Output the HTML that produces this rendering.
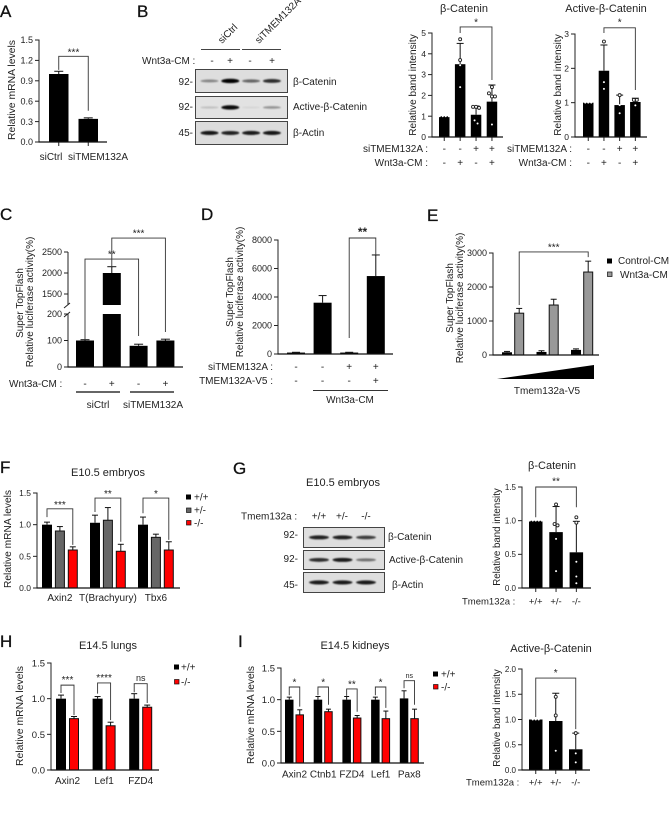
<!DOCTYPE html>
<html lang="en">
<head>
<meta charset="utf-8">
<title>TMEM132A Wnt signaling figure</title>
<style>
html,body{margin:0;padding:0;background:#fff;}
svg{display:block;}
text{font-family:"Liberation Sans",Arial,sans-serif;fill:#222;}
.p{font-size:17px;fill:#111;stroke:#111;stroke-width:.3px;}
.t{font-size:11px;text-anchor:middle;}
.l{font-size:10px;}
.m{text-anchor:middle;}
.e{text-anchor:end;}
</style>
</head>
<body>
<svg id="fig" xmlns="http://www.w3.org/2000/svg" width="669" height="833" viewBox="0 0 669 833">
<defs><filter id="soft" x="-20%" y="-100%" width="140%" height="300%"><feGaussianBlur stdDeviation="0.8"/></filter></defs>
<rect width="669" height="833" fill="#fff"/>

<text class="p" x="0" y="17">A</text>
<text class="p" x="137" y="17">B</text>
<text class="p" x="0" y="220">C</text>
<text class="p" x="201" y="220">D</text>
<text class="p" x="427" y="221">E</text>
<text class="p" x="0" y="473">F</text>
<text class="p" x="233" y="474">G</text>
<text class="p" x="0" y="647">H</text>
<text class="p" x="238" y="647">I</text>

<text class="t" x="464" y="12">β-Catenin</text>
<text class="t" x="606" y="12">Active-β-Catenin</text>
<text class="t" x="108" y="476">E10.5 embryos</text>
<text class="t" x="343" y="486">E10.5 embryos</text>
<text class="t" x="552" y="469">β-Catenin</text>
<text class="t" x="108" y="649">E14.5 lungs</text>
<text class="t" x="355" y="649">E14.5 kidneys</text>
<text class="t" x="551" y="652">Active-β-Catenin</text>

<!-- panel B blot labels -->
<text class="l" transform="translate(222,44) rotate(-45)">siCtrl</text>
<text class="l" transform="translate(259,44) rotate(-45)">siTMEM132A</text>
<line x1="201" y1="49.5" x2="240" y2="49.5" stroke="#444" stroke-width="1"/>
<line x1="242" y1="49.5" x2="281" y2="49.5" stroke="#444" stroke-width="1"/>
<text class="l" x="142" y="64">Wnt3a-CM :</text>
<text class="l m" x="212" y="64">-</text>
<text class="l m" x="230" y="64">+</text>
<text class="l m" x="250" y="64">-</text>
<text class="l m" x="272" y="64">+</text>
<text class="l e" x="193" y="85">92-</text>
<text class="l e" x="193" y="110">92-</text>
<text class="l e" x="193" y="136">45-</text>
<text class="l" x="293" y="85">β-Catenin</text>
<text class="l" x="293" y="110">Active-β-Catenin</text>
<text class="l" x="293" y="136">β-Actin</text>

<!-- panel B condition rows -->
<text class="l e" x="428" y="152">siTMEM132A :</text>
<text class="l e" x="428" y="166">Wnt3a-CM :</text>
<text class="l e" x="572" y="152">siTMEM132A :</text>
<text class="l e" x="572" y="166">Wnt3a-CM :</text>

<!-- panel C -->
<text class="l" x="9" y="387">Wnt3a-CM :</text>
<line x1="76" y1="392" x2="120" y2="392" stroke="#333" stroke-width="1.5"/>
<line x1="130" y1="392" x2="174" y2="392" stroke="#333" stroke-width="1.5"/>
<text class="l m" x="98" y="408">siCtrl</text>
<text class="l m" x="153" y="408">siTMEM132A</text>
<text class="l m" transform="translate(23,303) rotate(-90)">Super TopFlash</text>
<text class="l m" transform="translate(33,302) rotate(-90)">Relative luciferase activity(%)</text>

<!-- panel D -->
<text class="l e" x="273" y="370">siTMEM132A :</text>
<text class="l e" x="273" y="384">TMEM132A-V5 :</text>
<line x1="313" y1="390.5" x2="388" y2="390.5" stroke="#333" stroke-width="1"/>
<text class="l m" x="350" y="403">Wnt3a-CM</text>
<text class="l m" transform="translate(233,292) rotate(-90)">Super TopFlash</text>
<text class="l m" transform="translate(243,292) rotate(-90)">Relative luciferase activity(%)</text>

<!-- panel E -->
<text class="l m" transform="translate(453,298) rotate(-90)">Super TopFlash</text>
<text class="l m" transform="translate(463,298) rotate(-90)">Relative luciferase activity(%)</text>
<polygon points="497,379 594,365 594,379" fill="#000"/>
<text class="l m" x="547" y="394">Tmem132a-V5</text>
<rect x="607" y="258.5" width="5" height="5" fill="#000"/>
<text class="l" x="618" y="264">Control-CM</text>
<rect x="607.5" y="272" width="4.5" height="4.5" fill="#999" stroke="#222" stroke-width=".8"/>
<text class="l" x="620" y="278">Wnt3a-CM</text>

<!-- panel F legend -->
<rect x="186" y="494.5" width="5" height="5" fill="#000"/>
<text class="l" x="194" y="500.5">+/+</text>
<rect x="186.5" y="508" width="4.5" height="4.5" fill="#666" stroke="#111" stroke-width=".7"/>
<text class="l" x="194" y="513.5">+/-</text>
<rect x="186.5" y="520.5" width="4.5" height="4.5" fill="#f00" stroke="#111" stroke-width=".7"/>
<text class="l" x="194" y="526.5">-/-</text>

<!-- panel G blot text -->
<text class="l" x="241" y="519.5">Tmem132a :</text>
<text class="l m" x="319" y="519.5">+/+</text>
<text class="l m" x="342" y="519.5">+/-</text>
<text class="l m" x="366" y="519.5">-/-</text>
<text class="l e" x="298" y="538">92-</text>
<text class="l e" x="298" y="562">92-</text>
<text class="l e" x="298" y="588">45-</text>
<text class="l" x="388" y="540">β-Catenin</text>
<text class="l" x="389" y="563">Active-β-Catenin</text>
<text class="l" x="392" y="588">β-Actin</text>
<text class="l" x="462" y="604.5" style="font-size:9.5px">Tmem132a :</text>

<!-- panel H legend -->
<rect x="174" y="664.5" width="5" height="5" fill="#000"/>
<text class="l" x="181" y="670.5">+/+</text>
<rect x="174.5" y="679.5" width="4.5" height="4.5" fill="#f00" stroke="#111" stroke-width=".7"/>
<text class="l" x="181" y="685.5">-/-</text>

<!-- panel I legend -->
<rect x="433" y="671.5" width="5" height="5" fill="#000"/>
<text class="l" x="441" y="677.5">+/+</text>
<rect x="433.5" y="684.5" width="4.5" height="4.5" fill="#f00" stroke="#111" stroke-width=".7"/>
<text class="l" x="441" y="690.5">-/-</text>
<text class="l" x="466" y="785.5" style="font-size:9.5px">Tmem132a :</text>
</svg>

<script>
/* ---------- Panel A ---------- */
const aCategories = ['siCtrl', 'siTMEM132A'];
const aValues = [1.0, 0.34];
const aErrors = [0.04, 0.015];
const aTicks = [0, 0.3, 0.6, 0.9, 1.2, 1.5];
const aTickLabels = ['0.0', '0.3', '0.6', '0.9', '1.2', '1.5'];
const aBrackets = [{from: 0, to: 1, top: 1.26, left: 1.06, right: 0.46, label: '***'}];

/* ---------- Panel B, beta-catenin quantification ---------- */
const bBetaValues = [1.0, 3.5, 1.07, 1.7];
const bBetaErrors = [0, 1.0, 0.42, 0.8];
const bBetaPoints = [[1, 1, 1, 1], [4.7, 3.7, 3.45, 2.4], [1.45, 1.45, 1.4, 0.8, 0.65], [2.4, 2.1, 1.95, 1.95, 0.6]];
const bBetaTicks = [0, 1, 2, 3, 4, 5];
const bBetaTickLabels = ['0', '1', '2', '3', '4', '5'];
const bBetaBrackets = [{from: 1, to: 3, top: 5.29, left: 5.0, right: 2.74, label: '*'}];

/* ---------- Panel B, active beta-catenin quantification ---------- */
const bActiveValues = [1.0, 1.93, 0.93, 1.02];
const bActiveErrors = [0, 0.75, 0.29, 0.11];
const bActivePoints = [[1, 1, 1], [2.78, 1.6, 1.4], [1.22, 0.93, 0.69], [1.08, 1.08, 0.92]];
const bActiveTicks = [0, 1, 2, 3];
const bActiveTickLabels = ['0', '1', '2', '3'];
const bActiveBrackets = [{from: 1, to: 3, top: 3.18, left: 3.03, right: 1.37, label: '*'}];
const bSiRow = ['-', '-', '+', '+'];
const bWntRow = ['-', '+', '-', '+'];

/* ---------- Panel C ---------- */
const cValues = [100, 2000, 80, 100];
const cErrors = [3, 150, 6, 5];
const cTicks = [0, 100, 200, 1500, 2000, 2500];
const cTickLabels = ['0', '100', '200', '1500', '2000', '2500'];
const cBrackets = [
  {from: 0, to: 2, top: 2333, left: 102, right: 117, label: '**'},
  {from: 1, to: 3, top: 2833, left: 2119, right: 132, label: '***'}
];
const cWntRow = ['-', '+', '-', '+'];

/* ---------- Panel D ---------- */
const dValues = [100, 3600, 100, 5470];
const dErrors = [20, 500, 20, 1480];
const dTicks = [0, 2000, 4000, 6000, 8000];
const dTickLabels = ['0', '2000', '4000', '6000', '8000'];
const dBrackets = [{from: 2, to: 3, top: 8140, left: 1123, right: 6950, label: '**'}];
const dSiRow = ['-', '-', '+', '+'];
const dV5Row = ['-', '-', '-', '+'];

/* ---------- Panel E ---------- */
const eValues = [80, 1230, 90, 1470, 150, 2440];
const eErrors = [25, 140, 35, 170, 30, 320];
const eTicks = [0, 1000, 2000, 3000];
const eTickLabels = ['0', '1000', '2000', '3000'];
const eBrackets = [{from: 1, to: 5, top: 3030, left: 1470, right: 2880, label: '***'}];

/* ---------- Panel F ---------- */
const fCategories = ['Axin2', 'T(Brachyury)', 'Tbx6'];
const fValues = [1.0, 0.9, 0.6, 1.03, 1.07, 0.58, 1.0, 0.8, 0.6];
const fErrors = [0.04, 0.07, 0.05, 0.12, 0.2, 0.11, 0.12, 0.05, 0.13];
const fTicks = [0, 0.5, 1, 1.5];
const fTickLabels = ['0.0', '0.5', '1.0', '1.5'];
const fBrackets = [
  {from: 0, to: 2, top: 1.25, left: 1.12, right: 0.68, label: '***'},
  {from: 3, to: 5, top: 1.42, left: 1.2, right: 0.73, label: '**'},
  {from: 6, to: 8, top: 1.42, left: 1.18, right: 0.76, label: '*'}
];

/* ---------- Panel G quantification ---------- */
const gValues = [1.0, 0.83, 0.53];
const gErrors = [0, 0.38, 0.46];
const gPoints = [[1, 1, 1, 1, 1], [1.24, 0.95, 0.93, 0.73, 0.25], [1.05, 0.97, 0.39, 0.17, 0.07]];
const gTicks = [0, 0.5, 1, 1.5];
const gTickLabels = ['0.0', '0.5', '1.0', '1.5'];
const gBrackets = [{from: 0, to: 2, top: 1.5, left: 1.05, right: 1.2, label: '**'}];
const genotypeRow = ['+/+', '+/-', '-/-'];

/* ---------- Panel H ---------- */
const hCategories = ['Axin2', 'Lef1', 'FZD4'];
const hValues = [1.0, 0.72, 1.0, 0.62, 1.0, 0.88];
const hErrors = [0.05, 0.03, 0.03, 0.05, 0.07, 0.03];
const hTicks = [0, 0.5, 1, 1.5];
const hTickLabels = ['0.0', '0.5', '1.0', '1.5'];
const hBrackets = [
  {from: 0, to: 1, top: 1.19, left: 1.08, right: 0.77, label: '***'},
  {from: 2, to: 3, top: 1.22, left: 1.07, right: 0.70, label: '****'},
  {from: 4, to: 5, top: 1.21, left: 1.09, right: 0.94, label: 'ns'}
];

/* ---------- Panel I ---------- */
const iCategories = ['Axin2', 'Ctnb1', 'FZD4', 'Lef1', 'Pax8'];
const iValues = [1.0, 0.76, 1.0, 0.81, 1.0, 0.71, 1.0, 0.7, 1.02, 0.7];
const iErrors = [0.04, 0.08, 0.05, 0.04, 0.05, 0.04, 0.04, 0.12, 0.12, 0.15];
const iTicks = [0, 0.5, 1, 1.5];
const iTickLabels = ['0.0', '0.5', '1.0', '1.5'];
const iBrackets = [
  {from: 0, to: 1, top: 1.2, left: 1.07, right: 0.89, label: '*'},
  {from: 2, to: 3, top: 1.2, left: 1.07, right: 0.92, label: '*'},
  {from: 4, to: 5, top: 1.17, left: 1.06, right: 0.81, label: '**'},
  {from: 6, to: 7, top: 1.2, left: 1.07, right: 0.87, label: '*'},
  {from: 8, to: 9, top: 1.3, left: 1.18, right: 0.92, label: 'ns'}
];

/* ---------- Panel I quantification ---------- */
const jValues = [1.0, 0.97, 0.41];
const jErrors = [0, 0.55, 0.32];
const jPoints = [[1, 1, 1], [1.45, 1.08, 0.38], [0.73, 0.33, 0.15]];
const jTicks = [0, 0.5, 1, 1.5, 2];
const jTickLabels = ['0.0', '0.5', '1.0', '1.5', '2.0'];
const jBrackets = [{from: 0, to: 2, top: 1.82, left: 1.05, right: 0.81, label: '*'}];

/* ---------- Western blot band intensities ---------- */
const blotBBeta = [0.4, 1, 0.55, 0.8];
const blotBActive = [0.15, 0.95, 0.06, 0.35];
const blotBActin = [0.9, 0.85, 0.88, 0.9];
const blotGBeta = [0.85, 0.85, 0.72];
const blotGActive = [0.8, 0.88, 0.5];
const blotGActin = [0.88, 0.88, 0.88];

const svg = document.getElementById('fig');
const SVGNS = 'http://www.w3.org/2000/svg';

function mk(tag, attrs, parent) {
  const node = document.createElementNS(SVGNS, tag);
  for (const k in attrs) node.setAttribute(k, attrs[k]);
  parent.appendChild(node);
  return node;
}
function linearY(domMax, pxTop, pxBottom) {
  return v => pxBottom - (v / domMax) * (pxBottom - pxTop);
}
function brokenY(v) {
  return v <= 200 ? 367 - v * 0.265 : 294 - (v - 1500) * 0.042;
}
function bandX(c, i) {
  if (!c.group) return c.first + i * c.step;
  return c.first + Math.floor(i / c.group) * c.groupStep + (i % c.group) * c.step;
}
function txt(parent, x, y, str, size, anchor, transform) {
  const t = mk('text', {x: x, y: y, 'font-size': size, 'text-anchor': anchor || 'start'}, parent);
  if (transform) { t.setAttribute('transform', transform); t.removeAttribute('x'); t.removeAttribute('y'); }
  t.textContent = str;
  return t;
}

function drawChart(c) {
  const g = mk('g', {}, svg);
  
  
  const y = c.y;
  const base = y(0);
  const top = y(c.ticks[c.ticks.length - 1]);

  /* y axis */
  if (c.broken) {
    const up = mk('line', {x1: c.axisX, x2: c.axisX, y1: top, y2: y(c.broken[1]), stroke: '#222', 'stroke-width': 1}, g);
    
    
    const lo = mk('line', {x1: c.axisX, x2: c.axisX, y1: y(c.broken[0]), y2: base, stroke: '#222', 'stroke-width': 1}, g);
    
    
    const m1 = mk('line', {x1: c.axisX - 4, x2: c.axisX + 2, y1: y(c.broken[1]) + 3, y2: y(c.broken[1]) - 2, stroke: '#222', 'stroke-width': 1}, g);
    
    
    const m2 = mk('line', {x1: c.axisX - 4, x2: c.axisX + 2, y1: y(c.broken[0]) + 3, y2: y(c.broken[0]) - 2, stroke: '#222', 'stroke-width': 1}, g);
    
    
  } else {
    const ax = mk('line', {x1: c.axisX, x2: c.axisX, y1: top - .5, y2: base, stroke: '#222', 'stroke-width': 1}, g);
    
    
  }

  /* ticks and tick labels */
  c.ticks.forEach((t, i) => {
    const tk = mk('line', {x1: c.axisX - 4, x2: c.axisX, y1: y(t), y2: y(t), stroke: '#222', 'stroke-width': 1}, g);
    
    
    const lb = txt(g, c.axisX - 6, y(t) + c.tickFont * 0.36, c.tickLabels[i], c.tickFont, 'end');
    
    
  });

  /* bars */
  c.values.forEach((v, i) => {
    const x = bandX(c, i);
    const fill = c.fills ? c.fills[i % c.fills.length] : '#000';
    const outlined = fill !== '#000';
    const inset = outlined ? 0.5 : 0;
    if (c.broken && v > c.broken[1]) {
      const b1 = mk('rect', {x: x, y: y(v), width: c.barW, height: y(c.broken[1]) - y(v), fill: fill}, g);
      
      
      const b2 = mk('rect', {x: x, y: y(c.broken[0]), width: c.barW, height: base - y(c.broken[0]), fill: fill}, g);
      
      
    } else {
      const b = mk('rect', {x: x + inset, y: y(v), width: c.barW - 2 * inset, height: base - y(v), fill: fill}, g);
      if (outlined) { b.setAttribute('stroke', '#111'); b.setAttribute('stroke-width', 1); }
      
      
    }
    /* error bar */
    const e = c.errors[i];
    if (e > 0) {
      const cx = x + c.barW / 2;
      const stem = mk('line', {x1: cx, x2: cx, y1: y(v), y2: y(v + e), stroke: '#111', 'stroke-width': 1}, g);
      
      
      const cap = mk('line', {x1: cx - c.capW / 2, x2: cx + c.capW / 2, y1: y(v + e), y2: y(v + e), stroke: '#111', 'stroke-width': 1}, g);
      
      
    }
    /* data points */
    if (c.points) {
      const pts = c.points[i].slice().sort((a, b) => b - a);
      let j = 0;
      while (j < pts.length) {
        let k = j;
        while (k + 1 < pts.length && y(pts[k + 1]) - y(pts[k]) < 3.2) k++;
        const n = k - j + 1;
        for (let m = j; m <= k; m++) {
          const px = x + c.barW / 2 + ((m - j) - (n - 1) / 2) * 3;
          const inside = pts[m] <= v;
          const dot = mk('circle', inside
            ? {cx: px, cy: y(pts[m]), r: 1, fill: '#fff'}
            : {cx: px, cy: y(pts[m]), r: 1.5, fill: '#fff', stroke: '#222', 'stroke-width': 0.9}, g);
          
          
        }
        j = k + 1;
      }
    }
    /* small x ticks */
    if (c.xTicks) {
      const xt = mk('line', {x1: x + c.barW / 2, x2: x + c.barW / 2, y1: base, y2: base + 4, stroke: '#222', 'stroke-width': 1}, g);
      
      
    }
  });

  /* baseline */
  const bl = mk('line', {x1: c.axisX - 0.5, x2: c.axisEnd, y1: base, y2: base, stroke: '#111', 'stroke-width': 1.2}, g);
  
  

  /* category labels */
  if (c.categories) {
    const perCat = c.group || 1;
    c.categories.forEach((name, i) => {
      const left = bandX(c, i * perCat);
      const right = bandX(c, i * perCat + perCat - 1) + c.barW;
      const cx = c.catFirst !== undefined ? c.catFirst + i * c.catStep : (left + right) / 2;
      const lb = txt(g, cx, c.catY, name, c.catFont || 10, 'middle');
      
      
    });
  }

  /* condition rows */
  (c.rows || []).forEach(row => {
    row.marks.forEach((s, i) => {
      const lb = txt(g, bandX(c, i) + c.barW / 2, row.y, s, row.font || 10, 'middle');
      
      
    });
  });

  /* brackets */
  c.brackets.forEach(b => {
    const x1 = bandX(c, b.from) + c.barW / 2;
    const x2 = bandX(c, b.to) + c.barW / 2;
    const path = mk('path', {
      d: 'M' + x1 + ' ' + y(b.left) + 'V' + y(b.top) + 'H' + x2 + 'V' + y(b.right),
      fill: 'none', stroke: '#333', 'stroke-width': 0.9
    }, g);
    
    
    const ns = b.label === 'ns';
    const size = ns ? (c.nsFont || 9) : (c.starFont || 10);
    const lb = txt(g, (x1 + x2) / 2, y(b.top) - (ns ? 2.5 : (c.starDy || 1)), b.label, size, 'middle');
    if (c.starBold && !ns) lb.setAttribute('font-weight', 'bold');
    
    
  });

  /* y-axis title */
  if (c.yTitle) {
    const yt = txt(g, 0, 0, c.yTitle, c.yTitleFont || 10.3, 'middle', 'translate(' + c.yTitleX + ',' + c.yTitleY + ') rotate(-90)');
    
    
  }
}

function drawBlot(box, rows) {
  const g = mk('g', {}, svg);
  
  
  rows.forEach(row => {
    const r = mk('rect', {x: box.x + .5, y: row.top + .5, width: box.w, height: row.h, fill: row.bg || '#dedede', stroke: '#444', 'stroke-width': 1}, g);
    
    
    row.bands.forEach((a, i) => {
      const cx = box.laneFirst + i * box.laneStep;
      const band = mk('ellipse', {cx: cx, cy: row.top + row.h * 0.52, rx: box.bandW / 2, ry: 0.9 + a * 1.3, fill: '#000', opacity: a, filter: 'url(#soft)'}, g);
      
      
    });
  });
}

const greyFills = ['#000', '#999'];
const tripleFills = ['#000', '#666', '#f00'];
const pairFills = ['#000', '#f00'];

drawChart({name: 'panel-a-chart', y: linearY(1.5, 40, 142), axisX: 39, axisEnd: 107, ticks: aTicks, tickLabels: aTickLabels,
  first: 49, step: 29.5, barW: 19.5, capW: 9, values: aValues, errors: aErrors, brackets: aBrackets, xTicks: true,
  tickFont: 9, categories: aCategories, catFirst: 51, catStep: 47, catY: 160, yTitle: 'Relative mRNA levels', yTitleX: 15, yTitleY: 90, yTitleFont: 10.4});

drawChart({name: 'panel-b-beta-catenin-chart', y: linearY(5, 33, 137), axisX: 432, axisEnd: 503, ticks: bBetaTicks, tickLabels: bBetaTickLabels,
  first: 439, step: 15.9, barW: 10.5, capW: 7, values: bBetaValues, errors: bBetaErrors, points: bBetaPoints, brackets: bBetaBrackets, xTicks: true,
  tickFont: 8.5, starDy: 1.5, yTitle: 'Relative band intensity', yTitleX: 416, yTitleY: 85, yTitleFont: 10.1,
  rows: [{marks: bSiRow, y: 152}, {marks: bWntRow, y: 166}]});

drawChart({name: 'panel-b-active-beta-catenin-chart', y: linearY(3, 34, 137), axisX: 575, axisEnd: 647, ticks: bActiveTicks, tickLabels: bActiveTickLabels,
  first: 583, step: 15.7, barW: 10.5, capW: 7, values: bActiveValues, errors: bActiveErrors, points: bActivePoints, brackets: bActiveBrackets, xTicks: true,
  tickFont: 8.5, starDy: 2.5, yTitle: 'Relative band intensity', yTitleX: 561, yTitleY: 85, yTitleFont: 10.1,
  rows: [{marks: bSiRow, y: 152}, {marks: bWntRow, y: 166}]});

drawChart({name: 'panel-c-chart', y: brokenY, broken: [200, 1238], axisX: 68, axisEnd: 183, ticks: cTicks, tickLabels: cTickLabels,
  first: 76, step: 26.8, barW: 18, capW: 9, values: cValues, errors: cErrors, brackets: cBrackets,
  tickFont: 9, starDy: 1.5, rows: [{marks: cWntRow, y: 387}]});

drawChart({name: 'panel-d-chart', y: linearY(8000, 240, 354), axisX: 278, axisEnd: 393, ticks: dTicks, tickLabels: dTickLabels,
  first: 287, step: 26.6, barW: 18, capW: 8, values: dValues, errors: dErrors, brackets: dBrackets,
  tickFont: 9, starFont: 12, starBold: true, starDy: 2, rows: [{marks: dSiRow, y: 370}, {marks: dV5Row, y: 384}]});

drawChart({name: 'panel-e-chart', y: linearY(3000, 253, 355), axisX: 493, axisEnd: 599, ticks: eTicks, tickLabels: eTickLabels,
  first: 502, step: 12.2, group: 2, groupStep: 34.5, barW: 10, capW: 6, values: eValues, errors: eErrors, fills: greyFills, brackets: eBrackets,
  tickFont: 9, starDy: 1.5});

drawChart({name: 'panel-f-chart', y: linearY(1.5, 493, 588), axisX: 37, axisEnd: 180, ticks: fTicks, tickLabels: fTickLabels,
  first: 42, step: 12.9, group: 3, groupStep: 48, barW: 10, capW: 6, values: fValues, errors: fErrors, fills: tripleFills, brackets: fBrackets,
  tickFont: 8.5, starDy: 1, categories: fCategories, catY: 601, yTitle: 'Relative mRNA levels', yTitleX: 11, yTitleY: 539, yTitleFont: 10.2});

drawBlot({name: 'panel-b-western-blot', x: 195, w: 92, laneFirst: 209.5, laneStep: 20.8, bandW: 18}, [
  {top: 69, h: 23, bands: blotBBeta},
  {top: 96, h: 22, bands: blotBActive, bg: '#e2e2e2'},
  {top: 121, h: 23, bands: blotBActin, bg: '#dcdcdc'}
]);

drawBlot({name: 'panel-g-western-blot', x: 303, w: 81, laneFirst: 319, laneStep: 23.5, bandW: 20}, [
  {top: 527, h: 20, bands: blotGBeta},
  {top: 550, h: 19, bands: blotGActive},
  {top: 572, h: 20, bands: blotGActin}
]);

drawChart({name: 'panel-g-chart', y: linearY(1.5, 487, 588), axisX: 522, axisEnd: 591, ticks: gTicks, tickLabels: gTickLabels,
  first: 529, step: 20.3, barW: 13.5, capW: 7, values: gValues, errors: gErrors, points: gPoints, brackets: gBrackets, xTicks: true,
  tickFont: 8, starDy: 2.5, yTitle: 'Relative band intensity', yTitleX: 500, yTitleY: 537, yTitleFont: 9.7,
  rows: [{marks: genotypeRow, y: 604.5, font: 9.5}]});

drawChart({name: 'panel-h-chart', y: linearY(1.5, 663, 770), axisX: 51, axisEnd: 159, ticks: hTicks, tickLabels: hTickLabels,
  first: 56, step: 13, group: 2, groupStep: 36.6, barW: 10, capW: 6, values: hValues, errors: hErrors, fills: pairFills, brackets: hBrackets,
  tickFont: 9.5, starDy: 2, categories: hCategories, catY: 784, yTitle: 'Relative mRNA levels', yTitleX: 23, yTitleY: 716, yTitleFont: 10.4});

drawChart({name: 'panel-i-chart', y: linearY(1.5, 668, 763), axisX: 281, axisEnd: 424, ticks: iTicks, tickLabels: iTickLabels,
  first: 285, step: 10.5, group: 2, groupStep: 28.7, barW: 8.5, capW: 5, values: iValues, errors: iErrors, fills: pairFills, brackets: iBrackets,
  tickFont: 9.5, starDy: 1.5, nsFont: 7, categories: iCategories, catY: 777.5, yTitle: 'Relative mRNA levels', yTitleX: 254, yTitleY: 715, yTitleFont: 10.2});

drawChart({name: 'panel-i-active-beta-catenin-chart', y: linearY(2, 669, 770), axisX: 522, axisEnd: 590, ticks: jTicks, tickLabels: jTickLabels,
  first: 529, step: 20, barW: 13.5, capW: 7, values: jValues, errors: jErrors, points: jPoints, brackets: jBrackets, xTicks: true,
  tickFont: 8, starDy: 2, yTitle: 'Relative band intensity', yTitleX: 500, yTitleY: 718, yTitleFont: 9.7,
  rows: [{marks: genotypeRow, y: 785.5, font: 9.5}]});
</script>
</body>
</html>
